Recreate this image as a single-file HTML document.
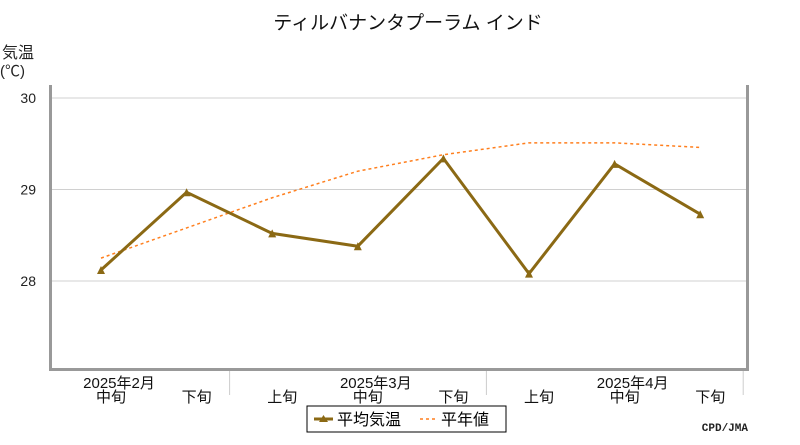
<!DOCTYPE html>
<html><head><meta charset="utf-8"><style>
body{margin:0;background:#fff;width:800px;height:440px;overflow:hidden;font-family:"Liberation Sans","Noto Sans CJK JP",sans-serif}
</style></head><body>
<svg id="chart" width="800" height="440" xmlns="http://www.w3.org/2000/svg" font-family="'Liberation Sans','Noto Sans CJK JP',sans-serif">
<text x="408" y="29" font-size="19" text-anchor="middle" fill="#111">ティルバナンタプーラム インド</text>
<text x="2" y="58" font-size="16" fill="#222">気温</text>
<text x="0" y="76" font-size="15" fill="#222">(℃)</text>
<g id="grid"></g>
<g id="xaxis"></g>
<g id="series"></g>
<rect x="49" y="85" width="3" height="286" fill="#999"/>
<rect x="746" y="85" width="3" height="286" fill="#999"/>
<rect x="49" y="368" width="700" height="3" fill="#999"/>
<g>
<rect x="307" y="406" width="199" height="26" fill="#fff" stroke="#000" stroke-width="1"/>
<line x1="314" y1="419" x2="333" y2="419" stroke="#8B6914" stroke-width="3"/>
<path d="M319 422 L323.5 415 L328 422 Z" fill="#8B6914"/>
<text x="337" y="425" font-size="16" fill="#000">平均気温</text>
<line x1="420" y1="419" x2="438" y2="419" stroke="#FF7F1E" stroke-width="1.5" stroke-dasharray="3,3"/>
<text x="441" y="425" font-size="16" fill="#000">平年値</text>
</g>
<text x="748" y="431" font-size="11" font-weight="bold" text-anchor="end" fill="#222" font-family="'Liberation Mono',monospace">CPD/JMA</text>
</svg>
<script>
const categories=["2月中旬","2月下旬","3月上旬","3月中旬","3月下旬","4月上旬","4月中旬","4月下旬"];
const decadeLabels=["中旬","下旬","上旬","中旬","下旬","上旬","中旬","下旬"];
const monthLabels=["2025年2月","2025年3月","2025年4月"];
const monthIndex=[0,3,6];
const avgTemp=[28.12,28.97,28.52,28.38,29.34,28.08,29.28,28.73];
const normalTemp=[28.25,28.58,28.91,29.2,29.38,29.51,29.51,29.46];
const yTicks=[28,29,30];
const NS="http://www.w3.org/2000/svg";
function xPos(i){return 101+i*85.6;}
function yPos(v){return 281-(v-28)*91.5;}
function mk(tag,attrs,parent){const e=document.createElementNS(NS,tag);for(const k in attrs)e.setAttribute(k,attrs[k]);parent.appendChild(e);return e;}
const grid=document.getElementById('grid'),xa=document.getElementById('xaxis'),ser=document.getElementById('series');
yTicks.forEach(t=>{
 const l=mk('line',{x1:52,x2:746,y1:yPos(t),y2:yPos(t),stroke:'#d0d0d0','stroke-width':1},grid);
 
 
 const tx=mk('text',{x:36,y:yPos(t)+5,'font-size':14,'text-anchor':'end',fill:'#222'},grid);
 tx.textContent=t;
 
 
});
[1,4,7].forEach(k=>{
 const x=xPos(k)+43;
 const l=mk('line',{x1:x,x2:x,y1:371,y2:395,stroke:'#ccc','stroke-width':1},xa);
 
 
});
decadeLabels.forEach((d,i)=>{
 const t=mk('text',{x:xPos(i)+10,y:402,'font-size':15,'text-anchor':'middle',fill:'#111'},xa);
 t.textContent=d;
 
 
});
monthLabels.forEach((m,j)=>{
 const t=mk('text',{x:xPos(monthIndex[j])+18,y:388,'font-size':15,'text-anchor':'middle',fill:'#111'},xa);
 t.textContent=m;
 
 
});
const np=mk('polyline',{points:normalTemp.map((v,i)=>xPos(i)+','+yPos(v)).join(' '),fill:'none',stroke:'#FF7F1E','stroke-width':1.5,'stroke-dasharray':'3,3'},ser);


const ap=mk('polyline',{points:avgTemp.map((v,i)=>xPos(i)+','+yPos(v)).join(' '),fill:'none',stroke:'#8B6914','stroke-width':3},ser);


avgTemp.forEach((v,i)=>{
 const x=xPos(i),y=yPos(v);
 const p=mk('path',{d:`M${x-4} ${y+4} L${x} ${y-4} L${x+4} ${y+4} Z`,fill:'#8B6914'},ser);
 
 
});
</script>
</body></html>
